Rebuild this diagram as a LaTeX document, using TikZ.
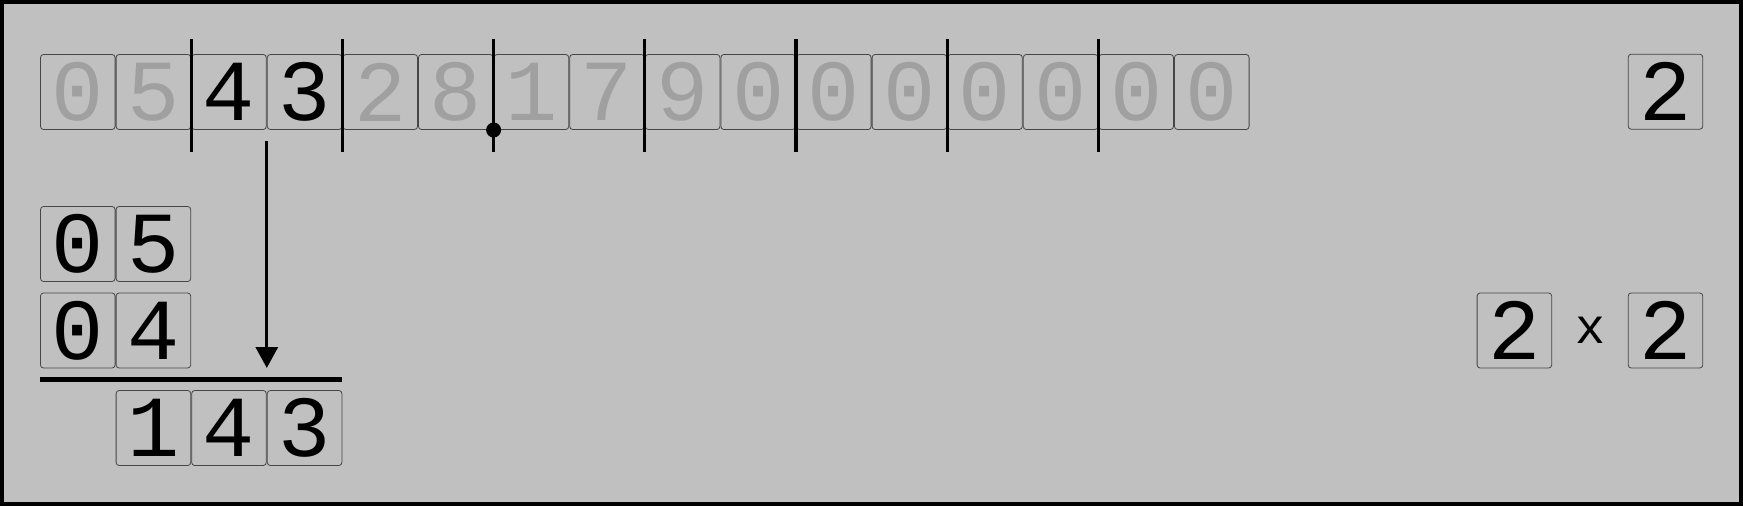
\documentclass[tikz,border=0pt]{standalone}
\usepackage{fontspec}
\setmonofont{Liberation Mono}
\usetikzlibrary{arrows.meta}
\definecolor{bg}{RGB}{192,192,192}
\definecolor{dim}{RGB}{160,160,160}
\definecolor{boxline}{RGB}{70,70,70}
\begin{document}
\begin{tikzpicture}[x=1pt,y=-1pt,
  cell/.style={draw=boxline, line width=0.8pt, rounded corners=3pt,
    minimum width=74.6pt, minimum height=75pt, inner sep=0pt,
    font=\fontsize{87}{87}\selectfont\ttfamily, text=black},
  dimcell/.style={cell, text=dim},
  sepline/.style={line width=3.3pt, black},
  arrowline/.style={line width=3.3pt, black, -{Triangle[length=21pt,width=22pt]}},
  ruleline/.style={line width=5pt, black},
  times/.style={inner sep=0pt, font=\fontsize{50}{50}\selectfont\ttfamily}]
\fill[black] (0,0) rectangle (1743,506);
\fill[bg] (4,4) rectangle (1739,502);
\useasboundingbox (0,0) rectangle (1743,506);
% top row
\foreach \i/\d/\s in {0/0/dimcell,1/5/dimcell,2/4/cell,3/3/cell,4/2/dimcell,5/8/dimcell,
  6/1/dimcell,7/7/dimcell,8/9/dimcell,9/0/dimcell,10/0/dimcell,11/0/dimcell,
  12/0/dimcell,13/0/dimcell,14/0/dimcell,15/0/dimcell}
  \node[\s] (t\i) at ({77.8+75.6*\i},92) {\d};
% separators
\foreach \b in {2,4,6,8,10,12,14}
  \draw[sepline] ({40+75.6*\b},39) -- ({40+75.6*\b},152);
\fill (493.6,130) circle (7.5pt);
% left block
\node[cell] (m0) at (77.8,244) {0};
\node[cell] (m1) at (153.4,244) {5};
\node[cell] (n0) at (77.8,330.5) {0};
\node[cell] (n1) at (153.4,330.5) {4};
\node[cell] (s1) at (153.4,428) {1};
\node[cell] (s2) at (229,428) {4};
\node[cell] (s3) at (304.6,428) {3};
\coordinate (r0) at (40,379);
\coordinate (r1) at (342.4,379);
\draw[ruleline] (r0) -- (r1);
\coordinate (a0) at (266.8,141);
\coordinate (a1) at (266.8,368);
\draw[arrowline] (a0) -- (a1);
% right side
\node[cell] (q) at (1665.5,91.7) {2};
\node[cell] (f1) at (1514.4,330.5) {2};
\node[times] (x) at (1590.7,330) {x};
\node[cell] (f2) at (1665.5,330.5) {2};
\end{tikzpicture}
\end{document}
